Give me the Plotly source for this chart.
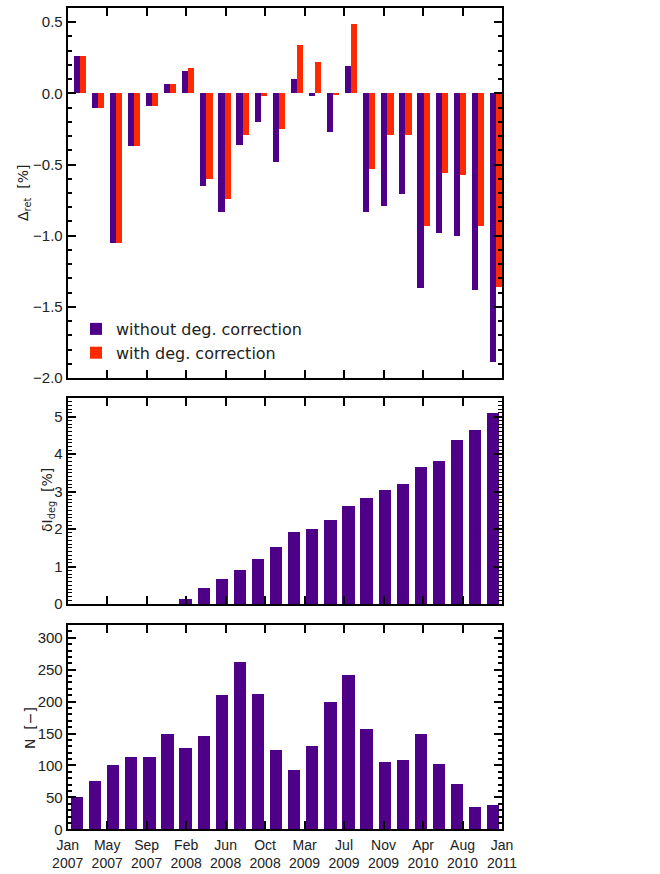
import plotly.graph_objects as go

# ---------------- data ----------------
tick_labels = ["Jan<br>2007", "May<br>2007", "Sep<br>2007", "Feb<br>2008", "Jun<br>2008", "Oct<br>2008",
               "Mar<br>2009", "Jul<br>2009", "Nov<br>2009", "Apr<br>2010", "Aug<br>2010", "Jan<br>2011"]
n_months = 48                      # Jan 2007 .. Jan 2011
bin_index = list(range(24))        # two-month bins

delta_without = [0.26, -0.10, -1.05, -0.37, -0.09, 0.065, 0.16, -0.65, -0.83, -0.36, -0.20, -0.48,
                 0.10, -0.02, -0.27, 0.19, -0.83, -0.79, -0.71, -1.37, -0.98, -1.00, -1.38, -1.89]
delta_with = [0.26, -0.10, -1.05, -0.37, -0.09, 0.065, 0.18, -0.60, -0.74, -0.29, -0.02, -0.25,
              0.34, 0.22, -0.01, 0.49, -0.53, -0.29, -0.29, -0.93, -0.56, -0.57, -0.93, -1.36]
deg = [0, 0, 0, 0, 0, 0, 0.13, 0.42, 0.67, 0.92, 1.21, 1.51,
       1.91, 1.99, 2.25, 2.61, 2.82, 3.04, 3.20, 3.65, 3.82, 4.39, 4.65, 5.09]
counts = [50, 75, 101, 113, 113, 149, 127, 146, 211, 262, 212, 125,
          93, 131, 200, 241, 157, 105, 108, 149, 102, 71, 35, 38]

PURPLE = "#4f0088"
RED = "#ff2a00"
W, H = 660, 874

x_center = [2 * i + 1 for i in bin_index]
tickvals = [i * n_months / (len(tick_labels) - 1) for i in range(len(tick_labels))]

fig = go.Figure()
# top panel
fig.add_trace(go.Bar(x=x_center, y=delta_without, width=0.68, offset=-0.38, marker_color=PURPLE,
                     marker_line_width=0, name="without deg. correction", xaxis="x2", yaxis="y"))
fig.add_trace(go.Bar(x=x_center, y=delta_with, width=0.68, offset=0.30, marker_color=RED,
                     marker_line_width=0, name="with deg. correction", xaxis="x2", yaxis="y"))
# middle panel
fig.add_trace(go.Bar(x=x_center, y=deg, width=1.36, marker_color=PURPLE, marker_line_width=0,
                     showlegend=False, xaxis="x3", yaxis="y2"))
# bottom panel
fig.add_trace(go.Bar(x=x_center, y=counts, width=1.36, marker_color=PURPLE, marker_line_width=0,
                     showlegend=False, xaxis="x", yaxis="y3"))

TICKFONT = dict(family="Liberation Sans, Arial, sans-serif", size=15, color="#222")


def px_x(p):
    return p / W


def px_y(p):
    return 1 - p / H


common = dict(showline=True, linecolor="black", linewidth=2, mirror="allticks", ticks="inside",
              ticklen=8, tickwidth=1.5, tickcolor="black", showgrid=False, zeroline=False,
              tickfont=TICKFONT, automargin=False)

xdom = [px_x(67.7), px_x(502)]
xcommon = dict(common, range=[0, n_months], tickmode="array", tickvals=tickvals, ticktext=tick_labels,
               domain=xdom)

fig.update_layout(
    width=W, height=H, margin=dict(l=0, r=0, t=0, b=0),
    paper_bgcolor="white", plot_bgcolor="white", barmode="overlay", bargap=0,
    font=dict(family="Liberation Sans, Arial, sans-serif", color="#222"),
    xaxis=dict(xcommon, anchor="y3", tickfont=dict(TICKFONT, size=14), ticklabelstandoff=2),
    xaxis2=dict(xcommon, anchor="y", showticklabels=False, matches="x"),
    xaxis3=dict(xcommon, anchor="y2", showticklabels=False, matches="x"),
    yaxis=dict(common, domain=[px_y(378), px_y(8)], range=[-2.0, 0.6], tickvals=[-2.0, -1.5, -1.0, -0.5, 0.0, 0.5],
               ticktext=["\u22122.0", "\u22121.5", "\u22121.0", "\u22120.5", "0.0", "0.5"],
               minor=dict(ticks="inside", ticklen=4, dtick=0.1, tick0=0, tickcolor="black", tickwidth=1.5),
               anchor="x2"),
    yaxis2=dict(common, domain=[px_y(604), px_y(398)], range=[0, 5.5], dtick=1,
                minor=dict(ticks="inside", ticklen=4, dtick=0.1, tick0=0, tickcolor="black", tickwidth=1),
                anchor="x3"),
    yaxis3=dict(common, domain=[px_y(829.3), px_y(625)], range=[0, 320], dtick=50,
                minor=dict(ticks="inside", ticklen=4, dtick=10, tick0=0, tickcolor="black", tickwidth=1.5),
                anchor="x"),
    legend=dict(x=px_x(76), y=px_y(312), xanchor="left", yanchor="top", bgcolor="rgba(0,0,0,0)",
                borderwidth=0, itemwidth=30, tracegroupgap=0,
                font=dict(family="DejaVu Sans, sans-serif", size=16, color="#222")),
    showlegend=True,
)

title_font = dict(family="DejaVu Sans, sans-serif", size=14, color="#222")
fig.add_annotation(text="\u0394<sub>ret</sub>  [%]", xref="paper", yref="paper", x=px_x(24), y=px_y(193),
                   textangle=-90, showarrow=False, font=title_font, xanchor="center", yanchor="middle")
fig.add_annotation(text="\u03b4I<sub>deg</sub>  [%]", xref="paper", yref="paper", x=px_x(48), y=px_y(500),
                   textangle=-90, showarrow=False, font=title_font, xanchor="center", yanchor="middle")
fig.add_annotation(text="N  [\u2212]", xref="paper", yref="paper", x=px_x(30), y=px_y(728),
                   textangle=-90, showarrow=False, font=title_font, xanchor="center", yanchor="middle")

fig.write_html("out.html")
